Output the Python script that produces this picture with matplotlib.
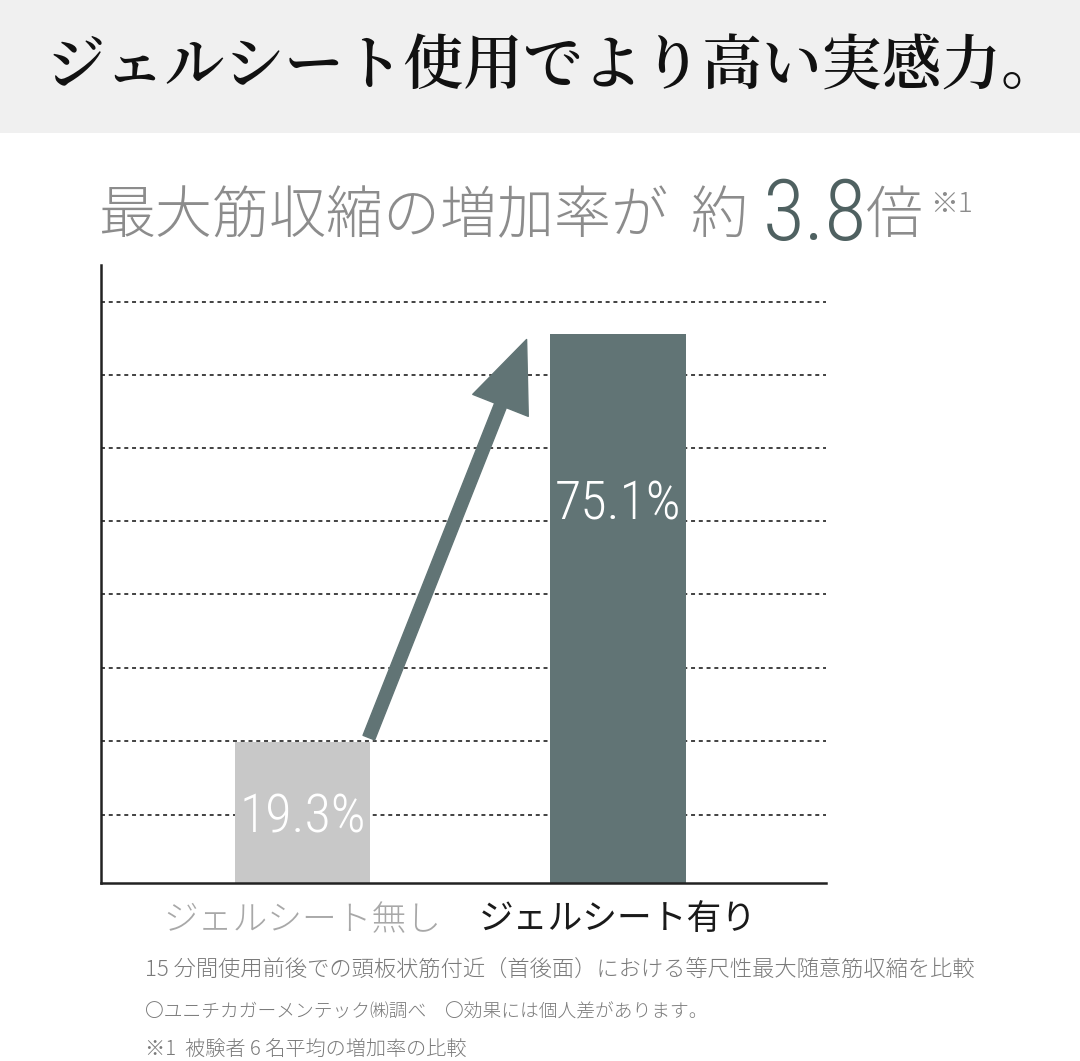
#!/usr/bin/env python3
"""
Gel sheet vs no gel sheet: increase in max muscle contraction (bar infographic).
"""
import matplotlib
matplotlib.use("Agg")
import matplotlib.pyplot as plt
from matplotlib.patches import Rectangle

plt.rcParams["font.family"] = ["Noto Sans CJK JP", "DejaVu Sans"]

categories = ["ジェルシート無し", "ジェルシート有り"]
values = [19.3, 75.1]
value_labels = ["19.3%", "75.1%"]

title = "ジェルシート使用でより高い実感力。"
subtitle = "最大筋収縮の増加率が"
ratio_label = "3.8"
notes = [
    "15 分間使用前後での頭板状筋付近（首後面）における等尺性最大随意筋収縮を比較",
    "〇ユニチカガーメンテック㈱調べ　〇効果には個人差があります。",
    "※1  被験者 6 名平均の増加率の比較",
]

DARK = "#617475"
LIGHT = "#c8c8c8"
GRAY_TXT = "#8c8c8c"
NARROW = ["Roboto Condensed", "DejaVu Sans"]
SERIF_JP = ["Noto Serif CJK JP", "Noto Sans CJK JP", "DejaVu Sans"]

W, H = 1080, 1061


def fx(px):
    return px / W


def fy(py):
    return 1 - py / H


def main() -> None:
    fig = plt.figure(figsize=(W / 100, H / 100), dpi=100)
    fig.patch.set_facecolor("white")

    # header band
    fig.patches.append(Rectangle((0, fy(133)), 1, 133 / H, transform=fig.transFigure,
                                 facecolor="#f0f0f0", edgecolor="none", zorder=0))
    fig.text(fx(553), fy(68), title, ha="center", va="center", fontsize=43,
             family=SERIF_JP, fontweight=600, color="#111111")

    # subtitle pieces
    fig.text(fx(98), fy(233), subtitle, ha="left", va="baseline", fontsize=41,
             fontweight=300, color=GRAY_TXT)
    fig.text(fx(690), fy(233), "約", ha="left", va="baseline", fontsize=41,
             fontweight=300, color=GRAY_TXT)
    fig.text(fx(763), fy(240), ratio_label, ha="left", va="baseline", fontsize=62,
             family=NARROW, fontweight=300, fontstretch="condensed", color="#4f6161")
    fig.text(fx(866), fy(233), "倍", ha="left", va="baseline", fontsize=41,
             fontweight=300, color=GRAY_TXT)
    fig.text(fx(930), fy(212), "※1", ha="left", va="baseline", fontsize=20,
             fontweight=300, color=GRAY_TXT)

    # chart area
    ax = fig.add_axes([fx(101), 1 - 883 / H, 725 / W, 618 / H])
    ax.set_xlim(-0.639, 1.659)
    ax.set_ylim(0, 84.6)

    grid_levels = [9.3, 19.4, 29.4, 39.5, 49.5, 59.6, 69.6, 79.6]
    for g in grid_levels:
        ax.axhline(g, color="#333333", lw=1.3, ls=(0, (2.2, 2.1)), zorder=1)

    x = [0, 1]
    ax.bar(x, values, width=0.43, color=[LIGHT, DARK], zorder=2)

    label_pos = [0.46, 0.69]
    for xi, v, lab, f in zip(x, values, value_labels, label_pos):
        ax.text(xi, v * f, lab, ha="center", va="center", fontsize=39,
                family=NARROW, fontweight=300, fontstretch="condensed",
                color="white", zorder=3)

    ax.annotate("", xy=(1 - 0.29, values[1] - 0.7), xytext=(0.21, values[0] + 0.6),
                arrowprops=dict(arrowstyle="simple,head_length=51,head_width=43,tail_width=9",
                                mutation_scale=1, color=DARK, shrinkA=0, shrinkB=0),
                zorder=4)

    for side in ["top", "right"]:
        ax.spines[side].set_visible(False)
    for side in ["left", "bottom"]:
        ax.spines[side].set_linewidth(1.8)
        ax.spines[side].set_color("#222222")
    ax.set_yticks([])
    ax.set_xticks(x)
    ax.set_xticklabels(categories, fontsize=25)
    ax.tick_params(axis="x", length=0, pad=14)
    tl = ax.get_xticklabels()
    tl[0].set_color("#a8a8a8")
    tl[0].set_fontweight(300)
    tl[1].set_color("#1a1a1a")
    tl[1].set_fontweight(400)

    # footnotes
    note_sizes = [16, 13.5, 14.5]
    for n, py, s in zip(notes, [970, 1012, 1050], note_sizes):
        fig.text(fx(145), fy(py), n, ha="left", va="center", fontsize=s,
                 fontweight=300, color="#7a7a7a")

    fig.savefig("out.png", dpi=100)
    plt.close(fig)


if __name__ == "__main__":
    main()
